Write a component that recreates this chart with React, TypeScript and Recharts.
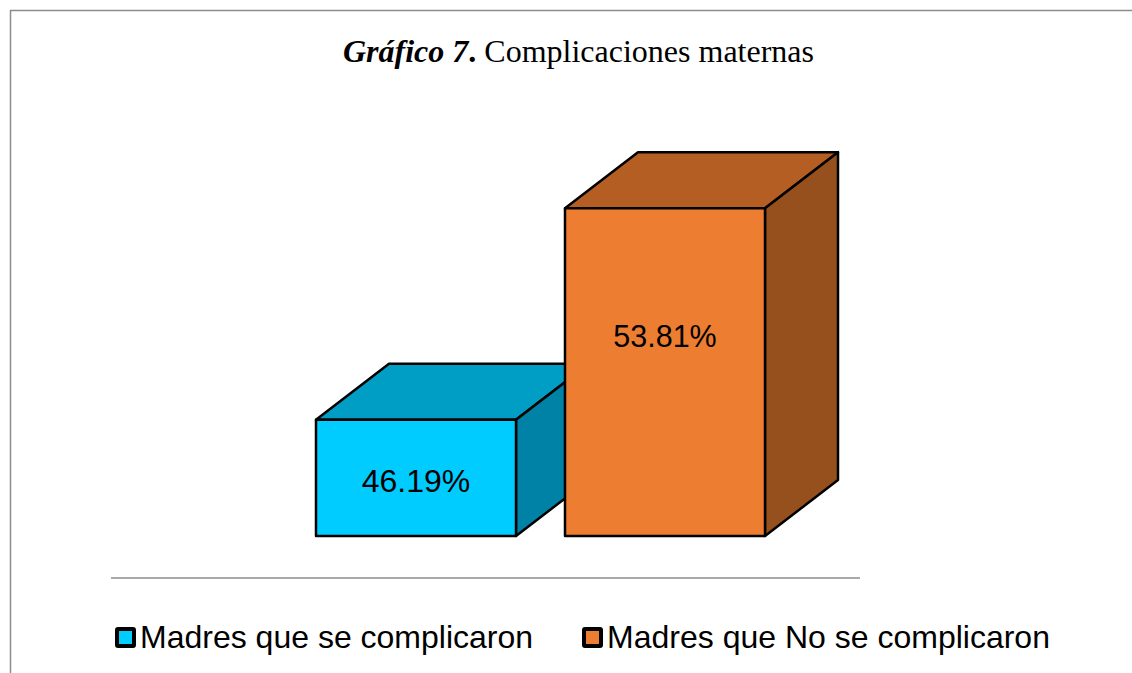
import React from 'react';
import { Bar, BarChart, Cell, LabelList, Legend, XAxis, YAxis } from 'recharts';

const categories = ['Madres que se complicaron', 'Madres que No se complicaron'];
const percentages = [46.19, 53.81];
const yDomain = [42, 56];

const FRONT_COLORS = ['#00ccff', '#ed7d31'];
const TOP_COLORS = ['#009ec5', '#b55e24'];
const SIDE_COLORS = ['#0081a6', '#96501d'];

// labels do not sit on the bar centre in the original
const LABEL_SHIFT = [3, -36];
const LABEL_SIZE = [32, 30.5];
const DEPTH_X = 73;
const DEPTH_Y = 56;

const data = categories.map((name, i) => ({ name, value: percentages[i] }));

const Box3D = (props: any) => {
  const { x, y, width, height, index } = props;
  const r = x + width;
  const b = y + height;
  const common = { stroke: '#000', strokeWidth: 2.5, strokeLinejoin: 'round' as const };
  return (
    <g>
      <polygon
        points={`${x},${y} ${x + DEPTH_X},${y - DEPTH_Y} ${r + DEPTH_X},${y - DEPTH_Y} ${r},${y}`}
        fill={TOP_COLORS[index]}
        {...common}
      />
      <polygon
        points={`${r},${y} ${r + DEPTH_X},${y - DEPTH_Y} ${r + DEPTH_X},${b - DEPTH_Y} ${r},${b}`}
        fill={SIDE_COLORS[index]}
        {...common}
      />
      <rect x={x} y={y} width={width} height={height} fill={FRONT_COLORS[index]} {...common} />
    </g>
  );
};

const BoxLabel = (props: any) => {
  const { x, y, width, height, value, index } = props;
  return (
    <text
      x={x + width / 2}
      y={y + height / 2 + LABEL_SHIFT[index]}
      textAnchor='middle'
      dominantBaseline='central'
      fontFamily='Liberation Sans'
      fontSize={LABEL_SIZE[index]}
      fill='#000'
    >
      {value}%
    </text>
  );
};

const LegendRow = () => (
  <div style={{ display: 'flex', fontFamily: 'Liberation Sans', fontSize: 32, color: '#000', lineHeight: '40px' }}>
    {categories.map((name, i) => (
      <div key={name} style={{ display: 'flex', alignItems: 'center', marginRight: 49 }}>
        <span
          style={{
            display: 'inline-block',
            boxSizing: 'border-box',
            width: 21,
            height: 21,
            marginRight: 4,
            background: FRONT_COLORS[i],
            border: '4px solid #000',
            borderRadius: 3,
          }}
        />
        <span style={{ whiteSpace: 'nowrap' }}>{name}</span>
      </div>
    ))}
  </div>
);

export default function App() {
  return (
    <div style={{ position: 'absolute', left: 0, top: 0, width: 1132, height: 673, background: '#fff' }}>
      <BarChart
        width={1132}
        height={673}
        data={data}
        margin={{ top: 147.4, right: 343, left: 291, bottom: 97 }}
      >
        <line x1={10} y1={10.5} x2={1132} y2={10.5} stroke='#8c8c8c' strokeWidth={1.5} />
        <line x1={10.5} y1={10} x2={10.5} y2={673} stroke='#8c8c8c' strokeWidth={1.5} />
        <line x1={111} y1={578} x2={860} y2={578} stroke='#8c8c8c' strokeWidth={1.5} />
        <text x={343} y={62} fontFamily='Liberation Serif' fontSize={32} fill='#000'>
          <tspan fontWeight='bold' fontStyle='italic'>Gráfico 7</tspan>
          <tspan fontWeight='bold'>.</tspan>
          <tspan> Complicaciones maternas</tspan>
        </text>
        <XAxis dataKey='name' hide />
        <YAxis domain={yDomain} hide />
        <Legend
          content={<LegendRow />}
          wrapperStyle={{ position: 'absolute', left: 115, top: 617, width: 1000, bottom: 'auto' }}
        />
        <Bar dataKey='value' barSize={200} shape={<Box3D />} isAnimationActive={false}>
          {categories.map((name, i) => (
            <Cell key={name} fill={FRONT_COLORS[i]} />
          ))}
          <LabelList dataKey='value' content={<BoxLabel />} />
        </Bar>
      </BarChart>
    </div>
  );
}
